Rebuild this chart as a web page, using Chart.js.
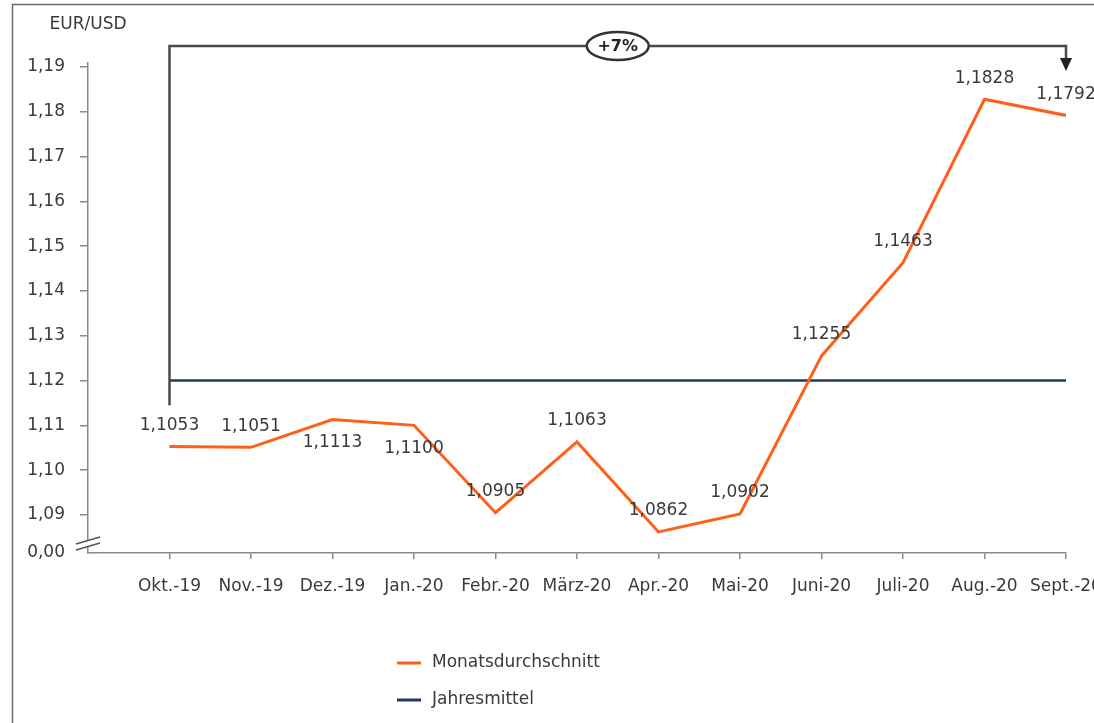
<!DOCTYPE html>
<html>
<head>
<meta charset="utf-8">
<script src="https://cdn.jsdelivr.net/npm/chart.js@4.4.1/dist/chart.umd.min.js"></script>
<style>
  html, body { margin: 0; padding: 0; background: #fff; }
  #wrap { width: 1094px; height: 723px; }
</style>
</head>
<body>
<div id="wrap"><canvas id="fxChart" width="1094" height="723"></canvas></div>
<script>
// data
const months = ["Okt.-19", "Nov.-19", "Dez.-19", "Jan.-20", "Febr.-20", "März-20",
                "Apr.-20", "Mai-20", "Juni-20", "Juli-20", "Aug.-20", "Sept.-20"];
const monthlyAvg = [1.1053, 1.1051, 1.1113, 1.1100, 1.0905, 1.1063,
                    1.0862, 1.0902, 1.1255, 1.1463, 1.1828, 1.1792];
const annualMean = [1.12, 1.12, 1.12, 1.12, 1.12, 1.12,
                    1.12, 1.12, 1.12, 1.12, 1.12, 1.12];
const yTickValues = [1.09, 1.10, 1.11, 1.12, 1.13, 1.14, 1.15, 1.16, 1.17, 1.18, 1.19];
const yBreakLabel = "0,00";
const labelSide = ["up", "up", "down", "down", "up", "up", "up", "up", "up", "up", "up", "up"];

const yMin = 1.0815;
const yMax = 1.1909;

const txt = "#3a3a3a";
const orange = "#ff6019";
const navy = "#1f3a5f";
const font = "'DejaVu Sans', sans-serif";

function de(v, d) {
    return v.toFixed(d).replace(".", ",");
}

const extras = {
    id: "extras",
    beforeDraw(chart) {
        const c = chart.ctx;
        c.save();
        c.strokeStyle = "#6b6b6b";
        c.lineWidth = 1.5;
        c.strokeRect(12.5, 4.5, chart.width + 50, chart.height + 50);
        c.restore();
    },
    afterDatasetsDraw(chart) {
        const c = chart.ctx;
        const x = chart.scales.x, y = chart.scales.y;
        const area = chart.chartArea;

        // value labels
        c.save();
        c.font = "17px " + font;
        c.fillStyle = txt;
        c.textAlign = "center";
        c.textBaseline = "middle";
        monthlyAvg.forEach((v, i) => {
            const px = x.getPixelForValue(i);
            const py = y.getPixelForValue(v);
            const dy = labelSide[i] === "up" ? -21 : 23;
            c.fillText(de(v, 4), px, py + dy);
        });
        c.restore();

        // axis break marks
        c.save();
        const bx = area.left, by = area.bottom - 12;
        c.fillStyle = "#fff";
        c.beginPath();
        c.moveTo(bx - 12, by + 3);
        c.lineTo(bx + 12, by - 4);
        c.lineTo(bx + 12, by + 2);
        c.lineTo(bx - 12, by + 9);
        c.closePath();
        c.fill();
        c.strokeStyle = "#555";
        c.lineWidth = 1.5;
        c.beginPath();
        c.moveTo(bx - 12, by + 3); c.lineTo(bx + 12, by - 4);
        c.moveTo(bx - 12, by + 9); c.lineTo(bx + 12, by + 2);
        c.stroke();
        c.restore();

        // bracket with arrow and percentage
        const x0 = x.getPixelForValue(0);
        const x1 = x.getPixelForValue(months.length - 1);
        const yTop = area.top - 17;
        const yLow = y.getPixelForValue(1.1145);
        c.save();
        c.strokeStyle = "#4a4a4a";
        c.lineWidth = 2.5;
        c.beginPath();
        c.moveTo(x0, yLow);
        c.lineTo(x0, yTop);
        c.lineTo(x1, yTop);
        c.lineTo(x1, yTop + 12);
        c.stroke();
        c.fillStyle = "#222";
        c.beginPath();
        c.moveTo(x1 - 6, yTop + 12);
        c.lineTo(x1 + 6, yTop + 12);
        c.lineTo(x1, yTop + 25);
        c.closePath();
        c.fill();

        const pct = Math.round((monthlyAvg[monthlyAvg.length - 1] / monthlyAvg[0] - 1) * 100);
        const cx = (x0 + x1) / 2;
        c.fillStyle = "#fff";
        c.lineWidth = 2.5;
        c.strokeStyle = "#333";
        c.beginPath();
        c.ellipse(cx, yTop, 31, 14, 0, 0, Math.PI * 2);
        c.fill();
        c.stroke();
        c.fillStyle = "#222";
        c.font = "bold 16px " + font;
        c.textAlign = "center";
        c.textBaseline = "middle";
        c.fillText("+" + pct + "%", cx, yTop + 1);

        // unit label
        c.fillStyle = txt;
        c.font = "17px " + font;
        c.fillText("EUR/USD", area.left, 25);

        // legend
        c.textAlign = "left";
        chart.data.datasets.forEach((ds, i) => {
            const lx = area.left + 309;
            const ly = area.bottom + 110 + i * 37;
            c.strokeStyle = ds.borderColor;
            c.lineWidth = 3;
            c.beginPath();
            c.moveTo(lx, ly);
            c.lineTo(lx + 24, ly);
            c.stroke();
            c.fillStyle = txt;
            c.fillText(ds.label, lx + 35, ly);
        });
        c.restore();
    }
};

new Chart(document.getElementById("fxChart"), {
    type: "line",
    data: {
        datasets: [
            {
                label: "Monatsdurchschnitt",
                data: monthlyAvg.map((v, i) => ({ x: i, y: v })),
                borderColor: orange,
                borderWidth: 3,
                pointRadius: 0,
                tension: 0
            },
            {
                label: "Jahresmittel",
                data: annualMean.map((v, i) => ({ x: i, y: v })),
                borderColor: navy,
                borderWidth: 2.5,
                pointRadius: 0,
                tension: 0
            }
        ]
    },
    options: {
        responsive: false,
        animation: false,
        layout: { padding: { top: 63, right: 28, left: 0, bottom: 0 } },
        plugins: {
            legend: { display: false },
            tooltip: { enabled: false }
        },
        scales: {
            x: {
                type: "linear",
                min: -1,
                max: months.length - 1,
                afterBuildTicks: s => { s.ticks = months.map((m, i) => ({ value: i })); },
                afterFit: s => { s.height = 170; s.paddingLeft = 0; s.paddingRight = 0; },
                border: { color: "#8a8a8a", width: 1.5 },
                grid: { drawOnChartArea: false, tickLength: 6, tickColor: "#8a8a8a", lineWidth: 1.5 },
                ticks: {
                    autoSkip: false,
                    maxRotation: 0,
                    padding: 17,
                    color: txt,
                    font: { family: font, size: 17 },
                    callback: v => months[v]
                }
            },
            y: {
                min: yMin,
                max: yMax,
                afterBuildTicks: s => { s.ticks = [yMin].concat(yTickValues).map(v => ({ value: v })); },
                afterFit: s => { s.width = 88; s.paddingTop = 0; s.paddingBottom = 0; },
                border: { color: "#8a8a8a", width: 1.5 },
                grid: {
                    drawOnChartArea: false,
                    tickLength: 8,
                    lineWidth: 1.5,
                    tickColor: ctx => ctx.tick && ctx.tick.value === yMin ? "rgba(0,0,0,0)" : "#8a8a8a"
                },
                ticks: {
                    padding: 15,
                    color: txt,
                    font: { family: font, size: 17 },
                    callback: v => v === yMin ? yBreakLabel : de(v, 2)
                }
            }
        }
    },
    plugins: [extras]
});
</script>
</body>
</html>
